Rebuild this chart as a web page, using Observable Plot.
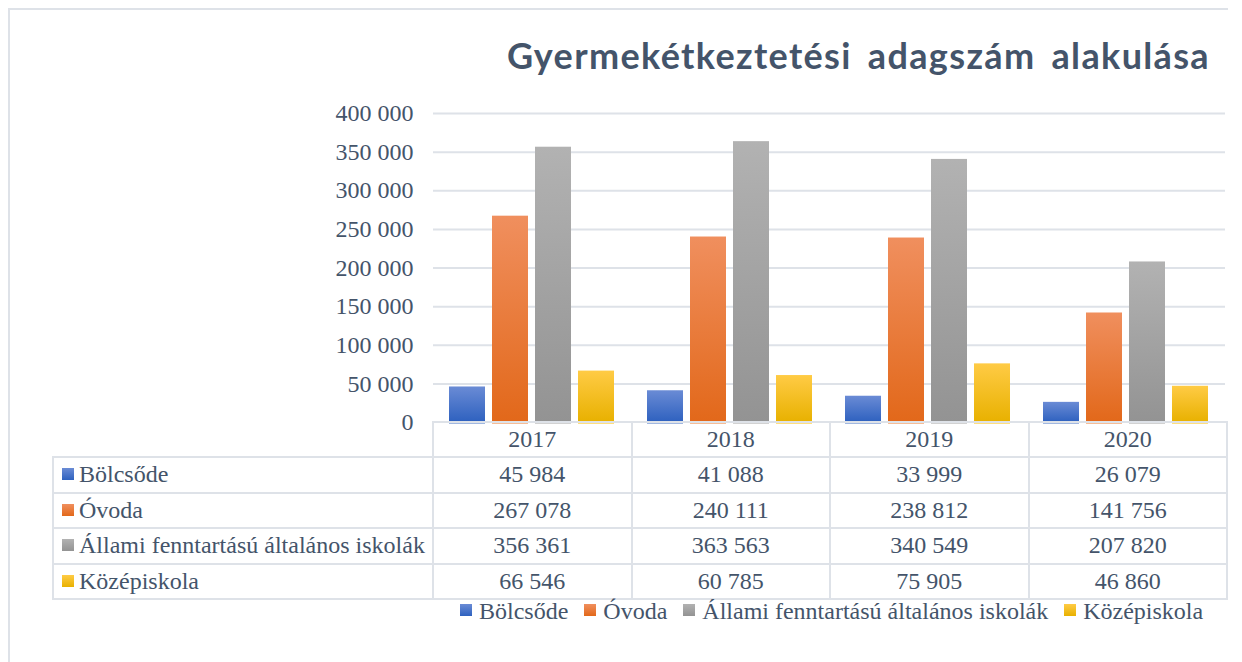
<!DOCTYPE html>
<html>
<head>
<meta charset="utf-8">
<script src="https://cdn.jsdelivr.net/npm/d3@7"></script>
<script src="https://cdn.jsdelivr.net/npm/@observablehq/plot@0.6"></script>
<style>
  html, body { margin: 0; padding: 0; background: #fff; }
  #wrap { position: relative; width: 1242px; height: 662px; overflow: hidden; background: #fff; }
  #frame { position: absolute; left: 8px; top: 8px; width: 1220px; height: 700px;
           border-left: 2px solid #DEE2E8; border-top: 2px solid #DEE2E8; box-sizing: border-box; }
  #title { position: absolute; right: 32px; top: 37px; font-family: Lato, sans-serif; font-weight: 700;
           font-size: 36px; line-height: 36px; color: #44546A; white-space: pre; word-spacing: 6px; }
  #chart { position: absolute; left: 0; top: 0; }
  #tbl { position: absolute; left: 52px; top: 421px; border-collapse: collapse; table-layout: fixed; }
  #tbl td { border: 2px solid #DEE2E8; padding: 0; text-align: center; vertical-align: middle; white-space: nowrap;
            font-family: "Liberation Serif", "Times New Roman", serif; font-size: 24px; color: #44546A; }
  #tbl td.lab { text-align: left; padding-left: 8px; }
  #tbl td.blank { border: none; }
  .mk { display: inline-block; width: 12px; height: 12px; margin-right: 5px; vertical-align: 2px; }
  #legend { position: absolute; left: 460px; top: 598px; display: flex; align-items: center;
            font-family: "Liberation Serif", "Times New Roman", serif; font-size: 24px; color: #44546A; white-space: nowrap; }
  #legend .it { display: flex; align-items: center; margin-right: 16px; }
  #legend .mk { margin-right: 7px; vertical-align: 0; position: relative; top: -2px; }
</style>
</head>
<body>
<div id="wrap">
  <div id="frame"></div>
  <div id="chart"></div>
  <div id="title"></div>
  <table id="tbl"></table>
  <div id="legend"></div>
</div>
<script>
// ---- data ----
const titleText = "Gyermekétkeztetési adagszám alakulása";
const years = ["2017", "2018", "2019", "2020"];
const series = ["Bölcsőde", "Óvoda", "Állami fenntartású általános iskolák", "Középiskola"];
const bolcsode = [45984, 41088, 33999, 26079];
const ovoda = [267078, 240111, 238812, 141756];
const allami = [356361, 363563, 340549, 207820];
const kozep = [66546, 60785, 75905, 46860];
const yTicks = [0, 50000, 100000, 150000, 200000, 250000, 300000, 350000, 400000];

// ---- styles ----
const gradStops = [
  ["#6A8BD5", "#2E61BF"],
  ["#F08F5E", "#E2681A"],
  ["#B2B2B2", "#939393"],
  ["#FFCB45", "#E8B100"]
];
const solid = ["#4472C4", "#ED7D31", "#A5A5A5", "#FFC000"];
const markerGrad = gradStops.map(s => `linear-gradient(${s[0]}, ${s[1]})`);

const valuesBySeries = [bolcsode, ovoda, allami, kozep];
const data = [];
years.forEach((y, i) => series.forEach((s, j) => data.push({year: y, series: s, value: valuesBySeries[j][i]})));

const fmt = d3.formatLocale({decimal: ",", thousands: " ", grouping: [3], currency: ["", ""]}).format(",d");

const gradIds = series.map((s, i) => `url(#grad${i})`);

const plot = Plot.plot({
  width: 1242,
  height: 662,
  marginLeft: 432,
  marginRight: 16,
  marginTop: 113,
  marginBottom: 240,
  style: {fontFamily: "'Liberation Serif', 'Times New Roman', serif", fontSize: "24px", color: "#44546A", background: "transparent"},
  fx: {domain: years, padding: 0, axis: null, label: null},
  x: {domain: series, paddingInner: 0.16, paddingOuter: 0.36, axis: null, label: null},
  y: {domain: [0, 400000], ticks: yTicks, tickFormat: fmt, tickSize: 0, tickPadding: 20, label: null},
  color: {domain: series, range: gradIds},
  marks: [
    Plot.ruleY(yTicks.filter(t => t > 0), {stroke: "#DEE2E8", strokeWidth: 2}),
    Plot.barY(data, {fx: "year", x: "series", y: "value", fill: "series", inset: 0}),
    ...series.map((s, i) => Plot.tickY(data.filter(d => d.series === s),
      {fx: "year", x: "series", y: () => 0, stroke: solid[i], strokeWidth: 2}))
  ]
});

// gradient definitions
const svg = d3.select(plot);
const defs = svg.insert("defs", ":first-child");
gradStops.forEach((s, i) => {
  const g = defs.append("linearGradient").attr("id", `grad${i}`).attr("x1", 0).attr("y1", 0).attr("x2", 0).attr("y2", 1);
  g.append("stop").attr("offset", "0%").attr("stop-color", s[0]);
  g.append("stop").attr("offset", "100%").attr("stop-color", s[1]);
});
document.getElementById("chart").appendChild(plot);

// title, spaced to span the reference width
const titleEl = document.getElementById("title");
titleEl.textContent = titleText;
const targetW = 703;
const w0 = titleEl.getBoundingClientRect().width;
titleEl.style.letterSpacing = ((targetW - w0) / titleText.length).toFixed(2) + "px";

// data table
const tbl = d3.select("#tbl");
const colgroup = tbl.append("colgroup");
colgroup.append("col").style("width", "380px");
years.forEach(() => colgroup.append("col").style("width", "198.5px"));
const head = tbl.append("tr").style("height", "35px");
head.append("td").attr("class", "blank");
years.forEach(y => head.append("td").text(y));
series.forEach((s, j) => {
  const tr = tbl.append("tr").style("height", "35.5px");
  const lab = tr.append("td").attr("class", "lab");
  lab.append("span").attr("class", "mk").style("background", markerGrad[j]);
  lab.append("span").text(s);
  valuesBySeries[j].forEach(v => tr.append("td").text(fmt(v)));
});

// legend
const leg = d3.select("#legend");
series.forEach((s, j) => {
  const it = leg.append("div").attr("class", "it");
  it.append("span").attr("class", "mk").style("background", markerGrad[j]);
  it.append("span").text(s);
});
</script>
</body>
</html>
